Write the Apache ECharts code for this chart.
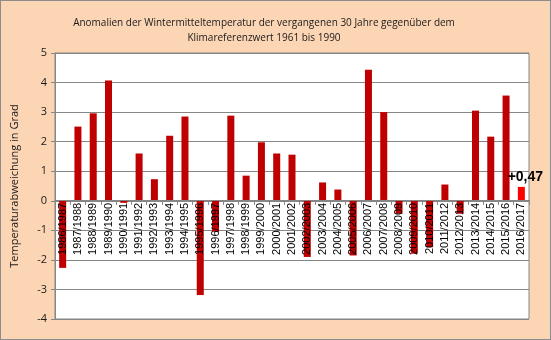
<!DOCTYPE html>
<html>
<head>
<meta charset="utf-8">
<script src="https://cdn.jsdelivr.net/npm/echarts@6/dist/echarts.min.js"></script>
<style>
  html, body { margin: 0; padding: 0; background: #fff; }
  #chart { width: 551px; height: 340px; box-sizing: border-box; border: 1px solid #8c8c8c; }
</style>
</head>
<body>
<div id="chart"></div>
<script>
// Winter seasons (Dec–Feb)
const seasons = [
  '1986/1987','1987/1988','1988/1989','1989/1990','1990/1991','1991/1992','1992/1993',
  '1993/1994','1994/1995','1995/1996','1996/1997','1997/1998','1998/1999','1999/2000',
  '2000/2001','2001/2002','2002/2003','2003/2004','2004/2005','2005/2006','2006/2007',
  '2007/2008','2008/2009','2009/2010','2010/2011','2011/2012','2012/2013','2013/2014',
  '2014/2015','2015/2016','2016/2017'
];

// Deviation from the 1961–1990 reference mean, in degrees
const anomalies = [
  -2.27, 2.51, 2.96, 4.07, -0.07, 1.60, 0.73,
  2.20, 2.85, -3.19, -1.05, 2.88, 0.85, 1.98,
  1.60, 1.56, -1.90, 0.62, 0.38, -1.85, 4.43,
  3.00, -0.44, -1.79, -1.57, 0.55, -0.44, 3.05,
  2.17, 3.56, 0.47
];

const yTicks = { min: -4, max: 5, step: 1 };

const latestLabel = '+0,47';

const chart = echarts.init(document.getElementById('chart'), null, { renderer: 'canvas' });

// Plot box geometry; the category axis is lifted from the bottom edge to the zero line
const gridBox = { left: 54, right: 21, top: 52, bottom: 20 };
const plotHeight = 340 - gridBox.top - gridBox.bottom;
const zeroLift = plotHeight * (0 - yTicks.min) / (yTicks.max - yTicks.min);

const lastIdx = anomalies.length - 1;
const barData = anomalies.map((v, i) => i === lastIdx
  ? {
      value: v,
      itemStyle: { color: '#ff0000' },
      label: {
        show: true, position: 'top', formatter: latestLabel,
        fontFamily: 'Liberation Sans', fontWeight: 'bold', fontSize: 14,
        color: '#000', offset: [4, 2]
      }
    }
  : v);

chart.setOption({
  backgroundColor: '#fcd5b4',
  animation: false,
  title: {
    text: 'Anomalien der Wintermitteltemperatur der vergangenen 30 Jahre gegenüber dem\nKlimareferenzwert 1961 bis 1990',
    left: 258, top: 10, textAlign: 'center',
    textStyle: {
      fontFamily: 'Open Sans', fontWeight: 'normal', fontSize: 10,
      color: '#1a1a1a', lineHeight: 15
    }
  },
  grid: Object.assign({
    outerBoundsMode: 'none',
    show: true, backgroundColor: '#ffffff', borderColor: '#868686', borderWidth: 1
  }, gridBox),
  xAxis: {
    type: 'category',
    data: seasons,
    position: 'bottom',
    offset: -zeroLift,
    z: 5,
    axisLine: { onZero: false, lineStyle: { color: '#868686', width: 1 } },
    axisTick: { show: true, length: 5, lineStyle: { color: '#868686' } },
    axisLabel: {
      rotate: 90, interval: 0, margin: 3,
      fontFamily: 'Liberation Sans', fontSize: 11, color: '#000'
    }
  },
  yAxis: {
    type: 'value',
    min: yTicks.min, max: yTicks.max, interval: yTicks.step,
    name: 'Temperaturabweichung in Grad',
    nameLocation: 'middle', nameGap: 35,
    nameTextStyle: { fontFamily: 'Open Sans', fontSize: 11, color: '#1a1a1a' },
    axisLine: { show: true, lineStyle: { color: '#868686' } },
    axisTick: { show: true, length: 4, lineStyle: { color: '#868686' } },
    axisLabel: { fontFamily: 'Open Sans', fontSize: 11, color: '#1a1a1a', margin: 8 },
    splitLine: { show: true, lineStyle: { color: '#868686', width: 1 } }
  },
  series: [{
    type: 'bar',
    data: barData,
    barWidth: 7,
    itemStyle: { color: '#c00000' }
  }]
});
</script>
</body>
</html>
